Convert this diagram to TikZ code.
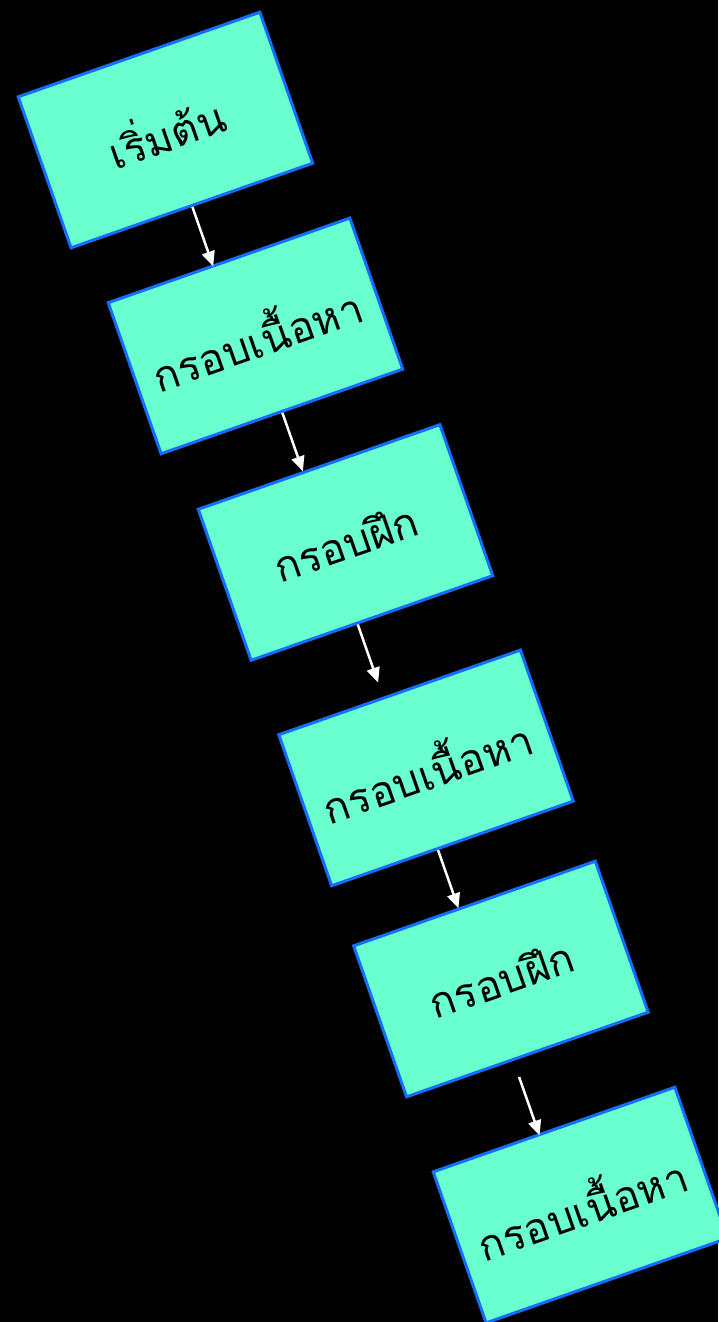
\documentclass[tikz,border=0pt]{standalone}
\usepackage{fontspec}
\newfontfamily\thaifont[Script=Thai]{Loma}
\usetikzlibrary{arrows.meta,calc}
\definecolor{boxfill}{RGB}{106,255,206}
\definecolor{boxline}{RGB}{20,110,255}
\tikzset{
  framebox/.style={draw=boxline, fill=boxfill, line width=3pt, rectangle,
    minimum width=256pt, minimum height=160pt, inner sep=0pt, rotate=19.3,
    font=\thaifont\fontsize{42}{50}\selectfont, text=black},
  arr/.style={draw=white, line width=2.5pt, -{Triangle[length=15pt,width=13pt]}}
}
\begin{document}
\begin{tikzpicture}[x=1pt,y=1pt]
\fill[black] (0,0) rectangle (718,-1322);
\useasboundingbox (0,0) rectangle (718,-1322);
\begin{scope}[rotate=19.3]
\node[framebox] (b1) at (113.2,-177.4) {เริ่มต้น};
\node[framebox] (b2) at (130.1,-401.5) {กรอบเนื้อหา};
\node[framebox] (b3) at (146.8,-626.2) {กรอบฝึก};
\node[framebox] (b4) at (148.3,-865.6) {กรอบเนื้อหา};
\node[framebox] (b5) at (149.2,-1089.6) {กรอบฝึก};
\node[framebox] (b6) at (149.6,-1329.2) {กรอบเนื้อหา};
\draw[arr] (b1.south) -- ++(0,-63);
\draw[arr] (b2.south) -- ++(0,-62);
\draw[arr] ($(b3.south)+(-15.5,0)$) -- ++(0,-61.6);
\draw[arr] ($(b4.south)+(-15.8,0)$) -- ++(0,-61.8);
\draw[arr] ($(b5.south)+(-15.2,-17)$) -- ++(0,-62);
\end{scope}
\end{tikzpicture}
\end{document}
